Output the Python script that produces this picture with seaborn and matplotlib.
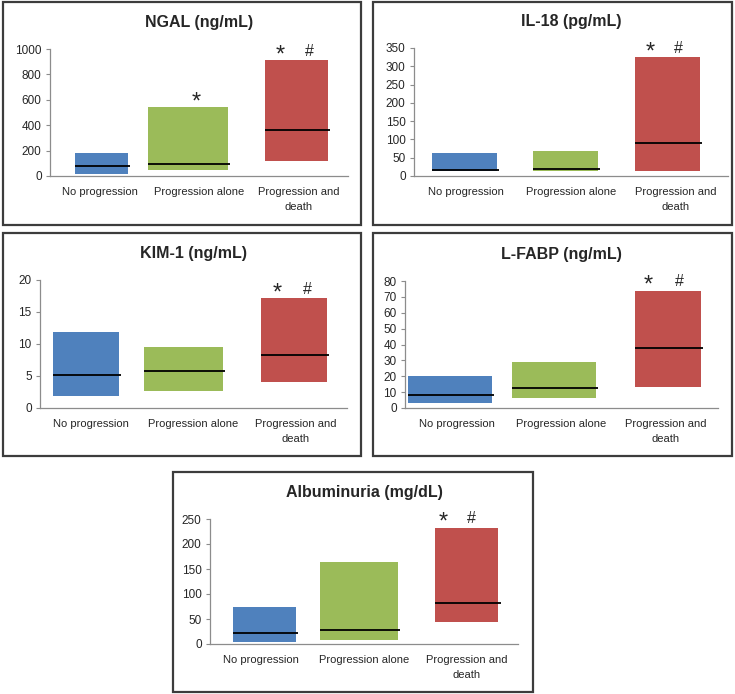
import matplotlib
matplotlib.use("Agg")
import matplotlib.pyplot as plt
from matplotlib.patches import Rectangle
import seaborn as sns

# data (low end, median, high end of each bar)
groups = ["No progression", "Progression alone", "Progression and\ndeath"]
colors = ["#4F81BD", "#9BBB59", "#C0504D"]

ngal_low = [15, 45, 115]
ngal_median = [75, 95, 360]
ngal_high = [180, 545, 915]

il18_low = [15, 15, 15]
il18_median = [16, 20, 90]
il18_high = [62, 67, 325]

kim1_low = [1.8, 2.6, 4.0]
kim1_median = [5.1, 5.8, 8.3]
kim1_high = [11.8, 9.6, 17.2]

lfabp_low = [3, 6, 13]
lfabp_median = [8, 12.5, 38]
lfabp_high = [20, 29, 74]

alb_low = [5, 8, 45]
alb_median = [22, 29, 83]
alb_high = [74, 165, 233]

panels = [
    dict(title="NGAL (ng/mL)", low=ngal_low, med=ngal_median, high=ngal_high,
         ymax=1000, step=200, marks=[(1, "*", -0.03), (2, "*", -0.18), (2, "#", 0.11)]),
    dict(title="IL-18 (pg/mL)", low=il18_low, med=il18_median, high=il18_high,
         ymax=350, step=50, marks=[(2, "*", -0.24), (2, "#", 0.03)]),
    dict(title="KIM-1 (ng/mL)", low=kim1_low, med=kim1_median, high=kim1_high,
         ymax=20, step=5, marks=[(2, "*", -0.18), (2, "#", 0.11)]),
    dict(title="L-FABP (ng/mL)", low=lfabp_low, med=lfabp_median, high=lfabp_high,
         ymax=80, step=10, marks=[(2, "*", -0.17), (2, "#", 0.13)]),
    dict(title="Albuminuria (mg/dL)", low=alb_low, med=alb_median, high=alb_high,
         ymax=250, step=50, marks=[(2, "*", -0.23), (2, "#", 0.05)]),
]

# layout in pixels: (left, top, right, bottom)
W, H = 735, 694
axes_px = [(50, 49, 348, 176), (414, 48, 728, 176), (40, 280, 347, 408),
           (405, 281, 718, 408), (210, 519, 518, 644)]
box_px = [(3, 2, 361, 225), (373, 2, 732, 225), (3, 233, 361, 456),
          (373, 233, 732, 456), (173, 472, 533, 692)]
bar_widths = [[0.54, 0.8, 0.64], [0.62, 0.62, 0.62], [0.65, 0.77, 0.65],
              [0.8, 0.8, 0.63], [0.62, 0.76, 0.62]]
bar_shift = [[0.02, -0.11, -0.02], [-0.02, -0.05, -0.08], [-0.05, -0.1, -0.02],
             [-0.07, -0.07, 0.02], [0.03, -0.05, 0.0]]


def frac(l, t, r, b):
    return [l / W, 1 - b / H, (r - l) / W, (b - t) / H]


sns.set_style("white")
plt.rcParams['font.family'] = ['Liberation Sans', 'DejaVu Sans']

fig = plt.figure(figsize=(7.35, 6.94), dpi=100)

for p, apx, bpx, widths, shifts in zip(panels, axes_px, box_px, bar_widths, bar_shift):
    x0, y0, w, h = frac(*bpx)
    fig.add_artist(Rectangle((x0, y0), w, h, transform=fig.transFigure,
                             fill=False, ec="#3c3c3c", lw=1.6))
    ax = fig.add_axes(frac(*apx))
    heights = [hi - lo for hi, lo in zip(p["high"], p["low"])]
    sns.barplot(x=groups, y=heights, bottom=p["low"], ax=ax, color=colors[0],
                errorbar=None, width=0.6, saturation=1)
    for i, bar in enumerate(ax.patches):
        bar.set_facecolor(colors[i])
        bar.set_edgecolor("none")
        bar.set_width(widths[i])
        bar.set_x(i + shifts[i] - widths[i] / 2)
    for i, m in enumerate(p["med"]):
        c = i + shifts[i]
        ax.hlines(m, c - widths[i] / 2, c + widths[i] / 2 + 0.02, color="black", lw=1.3, zorder=3)
    for i, txt, dx in p["marks"]:
        if txt == "*":
            ax.annotate(txt, (i + dx, p["high"][i]), xytext=(0, -1), textcoords="offset points",
                        ha="center", va="baseline", fontsize=17, annotation_clip=False)
        else:
            ax.annotate(txt, (i + dx, p["high"][i]), xytext=(0, 3), textcoords="offset points",
                        ha="center", va="baseline", fontsize=11.5, annotation_clip=False)
    ax.set_xlim(-0.5, 2.5)
    ax.set_ylim(0, p["ymax"])
    ax.set_yticks(range(0, p["ymax"] + 1, p["step"]))
    ax.set_xlabel("")
    ax.set_ylabel("")
    ax.set_title(p["title"], fontsize=11.5, fontweight="bold", pad=16)
    for s in ["top", "right"]:
        ax.spines[s].set_visible(False)
    for s in ["left", "bottom"]:
        ax.spines[s].set_color("#8c8c8c")
        ax.spines[s].set_linewidth(0.9)
    ax.tick_params(axis="y", left=True, length=3, color="#8c8c8c", labelsize=8.5, pad=3)
    ax.tick_params(axis="x", length=0, labelsize=8, pad=8)
    for lab in ax.get_xticklabels():
        lab.set_linespacing(1.6)
    ax.set_facecolor("white")

plt.savefig("out.png", dpi=100)
